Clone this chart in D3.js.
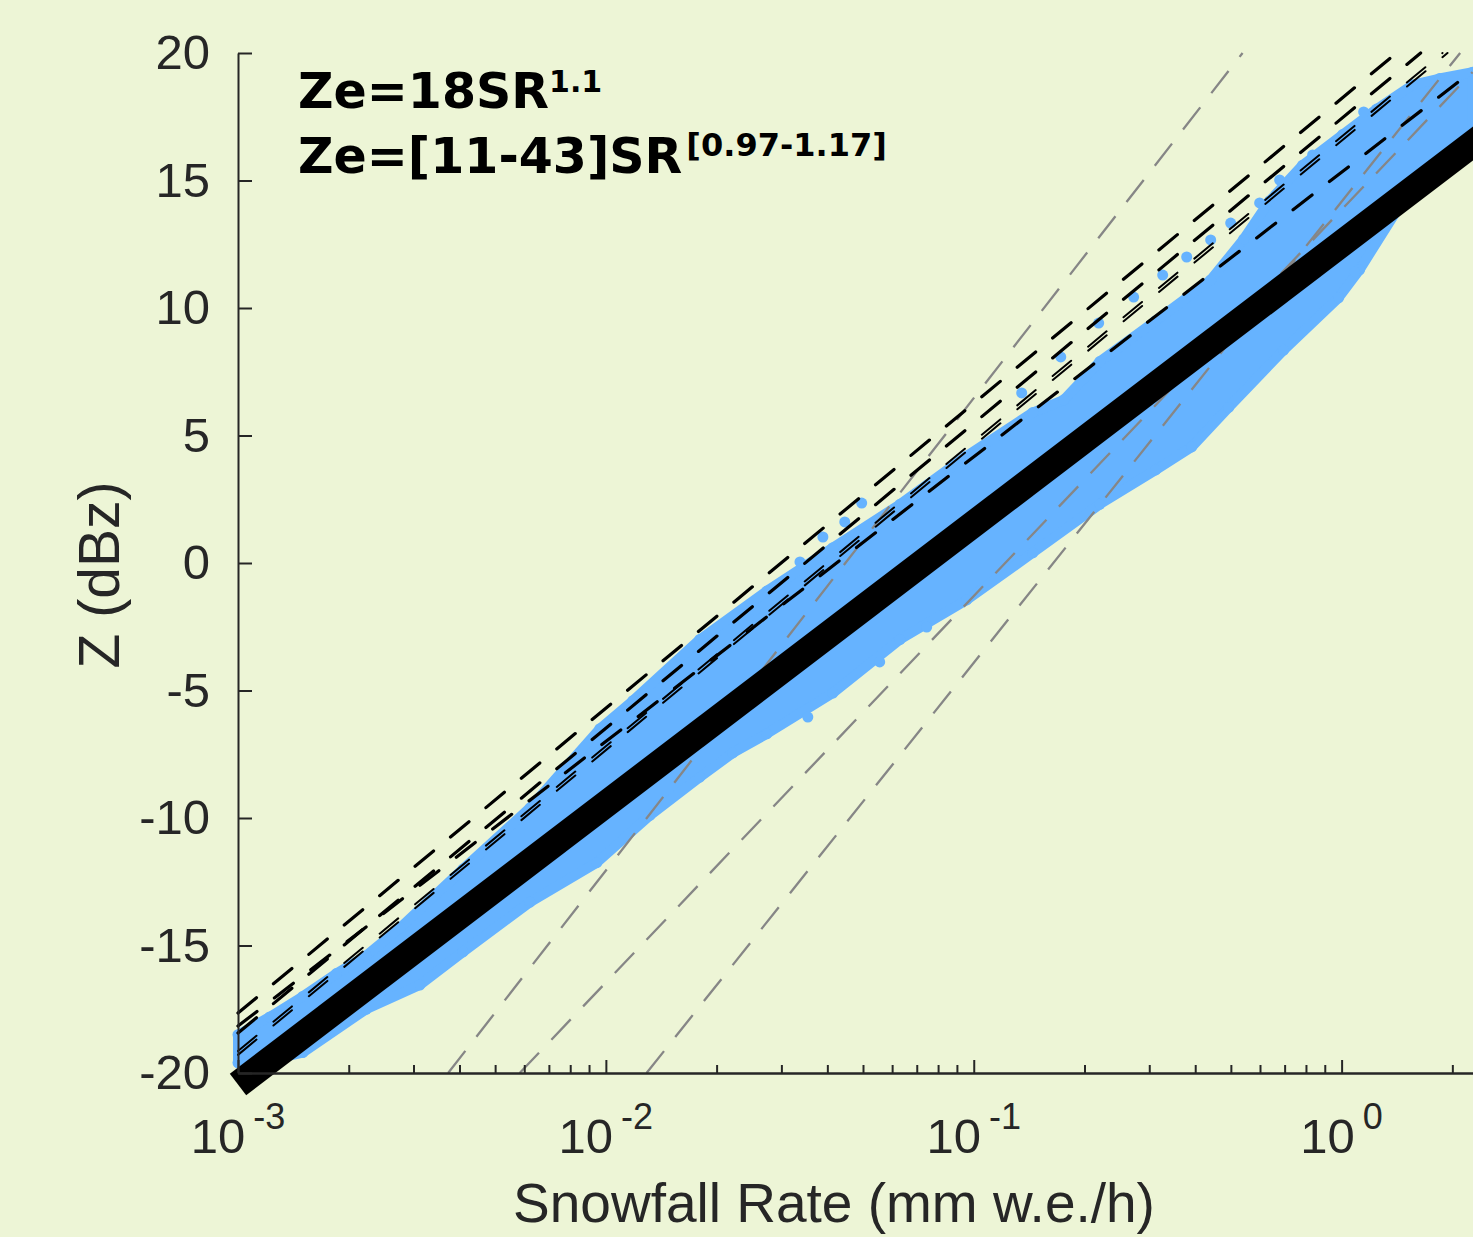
<!DOCTYPE html>
<html>
<head>
<meta charset="utf-8">
<script src="https://cdn.jsdelivr.net/npm/d3@7"></script>
<style>
  body { margin: 0; background: #edf5d6; }
  svg { display: block; }
  .axis path, .axis line { stroke: #262626; stroke-width: 2; }
  .axis text { fill: #262626; font-family: "Liberation Sans", Arial, sans-serif; font-size: 49px; }
</style>
</head>
<body>
<svg id="chart" width="1473" height="1237"></svg>
<script>
// scatter cloud, read as upper / lower envelope of the dots (SR in mm w.e./h, Z in dBz)
var bandUpperSR = [0.001, 0.00122, 0.0015, 0.00185, 0.00223, 0.00276, 0.00409, 0.00622, 0.00963, 0.01184,
  0.0180, 0.02738, 0.0414, 0.0630, 0.0957, 0.1447, 0.1757, 0.2200, 0.3123, 0.4406,
  0.5417, 0.637, 0.783, 1.006, 1.245, 1.560, 1.847, 2.27];
var bandUpperZ = [-18.5, -17.8, -17.0, -16.1, -15.4, -14.3, -12.0, -9.6, -6.5, -5.4,
  -3.0, -1.1, 0.6, 2.3, 4.2, 5.9, 6.4, 7.9, 9.5, 11.1,
  12.7, 14.2, 15.6, 16.8, 17.8, 18.75, 19.0, 19.25];
var bandLowerSR = [0.001, 0.00122, 0.0015, 0.00223, 0.00312, 0.00409, 0.00622, 0.00945, 0.01317, 0.0180,
  0.02214, 0.02738, 0.0414, 0.0630, 0.0957, 0.1447, 0.2200, 0.3123, 0.3912, 0.493,
  0.696, 0.981, 1.119, 1.438, 1.847, 2.27];
var bandLowerZ = [-19.6, -19.5, -19.2, -17.5, -16.55, -15.25, -13.3, -11.75, -9.9, -8.4,
  -7.45, -6.7, -5.1, -3.0, -1.45, 0.4, 2.3, 3.65, 4.55, 6.1,
  8.35, 10.4, 11.5, 14.0, 15.6, 16.4];

// single dots lying off the main cloud
var outlierSR = [0.0254, 0.0297, 0.0337, 0.0389, 0.0446, 0.0496, 0.135, 0.1724, 0.2186, 0.2721,
  0.3263, 0.3792, 0.4406, 0.4994, 0.5987, 0.6785, 0.834, 1.148, 1.085, 0.0354, 0.0555, 0.0745];
var outlierZ = [-1.84, -0.86, 0.04, 1.02, 1.61, 2.35, 6.67, 8.08, 9.41, 10.43,
  11.29, 12.0, 12.67, 13.33, 14.12, 15.02, 16.0, 17.69, 11.41, -6.04, -3.88, -2.51];

// black dashed fits: start / end points
var fitSR = [[0.001, 1.41], [0.001, 1.64], [0.001, 1.88], [0.001, 1.94], [0.001, 2.27]];
var fitZ = [[-17.65, 20], [-18.43, 20], [-19.14, 20], [-19.29, 20], [-18.16, 19.3]];
var fitWidth = [3.2, 3.2, 2, 2, 3.2];

// grey dashed reference relations
var refSR = [[0.003726, 0.538], [0.00583, 2.27], [0.0129, 2.10]];
var refZ = [[-20, 20], [-20, 19.25], [-20, 20]];

// Ze = 18 SR^1.1
var mainSR = [0.001, 2.5];
var mainZ = [-20.45, 16.9];

var yTicks = [-20, -15, -10, -5, 0, 5, 10, 15, 20];
var xMajor = [0.001, 0.01, 0.1, 1];
var xMajorExp = ["-3", "-2", "-1", "0"];

var blue = "#66b3ff";

var svg = d3.select("#chart");
svg.append("rect").attr("width", 1473).attr("height", 1237).attr("fill", "#edf5d6");

var x = d3.scaleLog().domain([1e-3, 2.5]).range([238, 1488]);
var y = d3.scaleLinear().domain([-20, 20]).range([1073, 53]);

var line = d3.line()
  .x(d => x(d[0]))
  .y(d => y(d[1]));

// scatter cloud
var upper = bandUpperSR.map((s, i) => [s, bandUpperZ[i]]);
var lower = bandLowerSR.map((s, i) => [s, bandLowerZ[i]]);

svg.append("path")
  .attr("d", line(upper.concat(lower.slice().reverse())) + "Z")
  .attr("fill", blue)
  .attr("stroke", blue)
  .attr("stroke-width", 10)
  .attr("stroke-linejoin", "round");

var dots = upper.concat(lower).concat(outlierSR.map((s, i) => [s, outlierZ[i]]));
svg.append("g")
  .selectAll("circle")
  .data(dots)
  .enter().append("circle")
  .attr("cx", d => x(d[0]))
  .attr("cy", d => y(d[1]))
  .attr("r", 5.5)
  .attr("fill", blue);

// grey dashed lines
svg.append("g")
  .selectAll("path")
  .data(refSR)
  .enter().append("path")
  .attr("d", (d, i) => line([[d[0], refZ[i][0]], [d[1], refZ[i][1]]]))
  .attr("fill", "none")
  .attr("stroke", "#868686")
  .attr("stroke-width", 2.3)
  .attr("stroke-dasharray", "28,18");

// black dashed lines
svg.append("g")
  .selectAll("path")
  .data(fitSR)
  .enter().append("path")
  .attr("d", (d, i) => line([[d[0], fitZ[i][0]], [d[1], fitZ[i][1]]]))
  .attr("fill", "none")
  .attr("stroke", "#000")
  .attr("stroke-width", (d, i) => fitWidth[i])
  .attr("stroke-linecap", "round")
  .attr("stroke-dasharray", "24,22");

// thick black relation
svg.append("path")
  .attr("d", line(mainSR.map((s, i) => [s, mainZ[i]])))
  .attr("fill", "none")
  .attr("stroke", "#000")
  .attr("stroke-width", 27);

// axes
svg.append("g")
  .attr("class", "axis")
  .attr("transform", "translate(238,0)")
  .call(d3.axisLeft(y).tickValues(yTicks).tickSizeInner(-14).tickSizeOuter(0)
    .tickPadding(28).tickFormat(d => String(d)));

var minorTicks = x.ticks().filter(v => Math.abs(Math.log10(v) - Math.round(Math.log10(v))) > 1e-6);

svg.append("g")
  .attr("class", "axis")
  .attr("transform", "translate(0,1073)")
  .call(d3.axisBottom(x).tickValues(minorTicks).tickSizeInner(-8).tickSizeOuter(0).tickFormat(""));

svg.append("g")
  .attr("class", "axis")
  .attr("transform", "translate(0,1073)")
  .call(d3.axisBottom(x).tickValues(xMajor).tickSizeInner(-13).tickSizeOuter(0).tickFormat(""));

var xl = svg.append("g")
  .selectAll("text")
  .data(xMajor)
  .enter().append("text")
  .attr("x", d => x(d))
  .attr("y", 1153)
  .attr("text-anchor", "middle")
  .attr("fill", "#262626")
  .style("font-family", "'Liberation Sans', Arial, sans-serif");
xl.append("tspan").style("font-size", "49px").text("10");
xl.append("tspan").attr("dx", 8).attr("dy", -24).style("font-size", "36px").text((d, i) => xMajorExp[i]);

// axis titles
svg.append("text")
  .attr("x", 834)
  .attr("y", 1222)
  .attr("text-anchor", "middle")
  .attr("fill", "#262626")
  .style("font-family", "'Liberation Sans', Arial, sans-serif")
  .style("font-size", "55px")
  .text("Snowfall Rate (mm w.e./h)");

svg.append("text")
  .attr("transform", "translate(119,575) rotate(-90)")
  .attr("text-anchor", "middle")
  .attr("fill", "#262626")
  .style("font-family", "'Liberation Sans', Arial, sans-serif")
  .style("font-size", "57px")
  .text("Z (dBz)");

// relation labels
var t1 = svg.append("text")
  .attr("x", 298).attr("y", 108)
  .style("font-family", "'DejaVu Sans', Verdana, sans-serif")
  .style("font-weight", "bold")
  .style("font-size", "49px");
t1.append("tspan").text("Ze=18SR");
t1.append("tspan").attr("dy", -16).style("font-size", "30px").text("1.1");

var t2 = svg.append("text")
  .attr("x", 298).attr("y", 173)
  .style("font-family", "'DejaVu Sans', Verdana, sans-serif")
  .style("font-weight", "bold")
  .style("font-size", "49px");
t2.append("tspan").text("Ze=[11-43]SR");
t2.append("tspan").attr("dx", 4).attr("dy", -17).style("font-size", "32px").text("[0.97-1.17]");
</script>
</body>
</html>
